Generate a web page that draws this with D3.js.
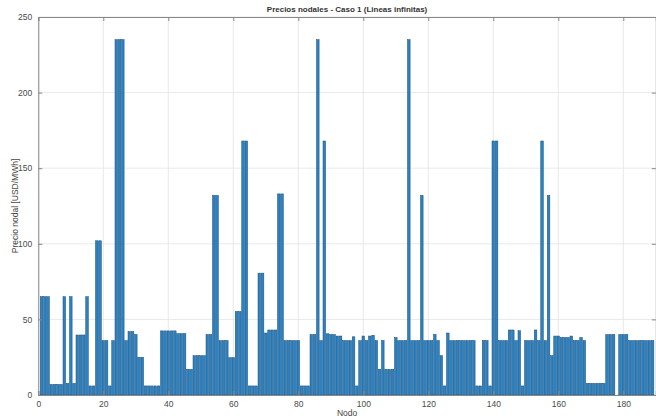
<!DOCTYPE html>
<html>
<head>
<meta charset="utf-8">
<script src="https://cdn.jsdelivr.net/npm/d3@7"></script>
<style>
  html, body { margin: 0; padding: 0; background: #ffffff; }
  svg { display: block; }
  text { font-family: "Liberation Sans", Arial, sans-serif; }
</style>
</head>
<body>
<svg id="chart" width="656" height="419"></svg>
<script>
// Nodal prices per bus (USD/MWh), buses 1..189
const nodes = d3.range(1, 190);
const prices = [
  65, 65, 65, 7, 7, 7, 7, 65, 7.7, 65,
  7.7, 39.7, 39.7, 39.7, 65, 6, 6, 102, 102, 36,
  36, 6, 36, 235, 235, 235, 36, 42, 42, 40,
  25, 25, 6, 6, 6, 6, 6, 42.4, 42.4, 42.4,
  42.4, 42.4, 40.6, 40.6, 40.6, 17, 17, 26, 26, 26,
  26, 40, 40, 132, 132, 36, 36, 36, 24.7, 24.7,
  55.2, 55.2, 168, 168, 6, 6, 6, 80.6, 80.6, 41,
  43, 43, 43, 133, 133, 36, 36, 36, 36, 36,
  6, 6, 6, 40, 40, 235, 36, 168, 40.5, 40,
  40, 39, 39, 36, 36, 36, 38.5, 6, 36, 39,
  36, 39, 39.5, 36, 17, 36, 17, 17, 17, 38,
  36, 36, 36, 235, 36, 36, 36, 132, 36, 36,
  36, 40, 36, 26, 6, 41, 36, 36, 36, 36,
  36, 36, 36, 36, 6, 6, 36, 36, 6, 168,
  168, 36, 36, 36, 43, 43, 36, 42.5, 6, 36,
  36, 36, 43, 36, 168, 36, 132, 26, 39, 39,
  38, 38, 38, 39, 36, 36, 38, 36, 7.7, 7.7,
  7.7, 7.7, 7.7, 7.7, 40, 40, 40, 0, 40, 40,
  40, 36, 36, 36, 36, 36, 36, 36, 36
];
const xTicks = [0, 20, 40, 60, 80, 100, 120, 140, 160, 180];
const yTicks = [0, 50, 100, 150, 200, 250];

const titleText = "Precios nodales - Caso 1 (Lineas infinitas)";
const xLabel = "Nodo";
const yLabel = "Precio nodal [USD/MWh]";

const svg = d3.select("#chart");
const plotLeft = 38.3, plotRight = 655.8, plotTop = 17, plotBottom = 395;

const x = d3.scaleLinear().domain([0, 190]).range([plotLeft, plotRight]);
const y = d3.scaleLinear().domain([0, 250]).range([plotBottom, plotTop]);
const barW = 0.8 * (x(1) - x(0));

// grid
const grid = svg.append("g");
grid.selectAll("line.gx").data(xTicks).enter().append("line")
  .attr("x1", d => x(d)).attr("x2", d => x(d))
  .attr("y1", plotTop).attr("y2", plotBottom)
  .attr("stroke", "#e3e3e3").attr("stroke-width", 0.8);
grid.selectAll("line.gy").data(yTicks).enter().append("line")
  .attr("x1", plotLeft).attr("x2", plotRight)
  .attr("y1", d => y(d)).attr("y2", d => y(d))
  .attr("stroke", "#e3e3e3").attr("stroke-width", 0.8);

// bars
svg.append("g").selectAll("rect").data(nodes).enter().append("rect")
  .attr("x", (d) => x(d) - barW / 2)
  .attr("width", barW)
  .attr("y", (d, i) => y(prices[i]))
  .attr("height", (d, i) => y(0) - y(prices[i]))
  .attr("fill", "#2a82c2")
  .attr("stroke", "#1c4f7c")
  .attr("stroke-width", 0.5);

// axes with inward ticks
const axisColor = "#888888";
const fmt = d3.format("d");
const gx = svg.append("g").attr("transform", `translate(0,${plotBottom})`)
  .call(d3.axisBottom(x).tickValues(xTicks).tickSize(-4).tickPadding(6).tickFormat(fmt));
const gxTop = svg.append("g").attr("transform", `translate(0,${plotTop})`)
  .call(d3.axisTop(x).tickValues(xTicks).tickSize(-4).tickFormat(""));
const gy = svg.append("g").attr("transform", `translate(${plotLeft},0)`)
  .call(d3.axisLeft(y).tickValues(yTicks).tickSize(-4).tickPadding(6).tickFormat(fmt));
const gyRight = svg.append("g").attr("transform", `translate(${plotRight},0)`)
  .call(d3.axisRight(y).tickValues(yTicks).tickSize(-4).tickFormat(""));

[gx, gxTop, gy, gyRight].forEach(g => {
  g.select(".domain").attr("stroke", axisColor).attr("stroke-width", 1);
  g.selectAll(".tick line").attr("stroke", axisColor);
  g.selectAll(".tick text").attr("fill", "#4a4a4a")
    .style("font-family", "'Liberation Sans', Arial, sans-serif")
    .style("font-size", "8.5px");
});

// title and labels
svg.append("text")
  .attr("x", (plotLeft + plotRight) / 2).attr("y", 12)
  .attr("text-anchor", "middle")
  .attr("fill", "#333")
  .style("font-size", "8px").style("font-weight", "bold")
  .text(titleText);

svg.append("text")
  .attr("x", (plotLeft + plotRight) / 2).attr("y", 416)
  .attr("text-anchor", "middle")
  .attr("fill", "#444")
  .style("font-size", "8.5px")
  .text(xLabel);

svg.append("text")
  .attr("transform", `translate(18,${(plotTop + plotBottom) / 2}) rotate(-90)`)
  .attr("text-anchor", "middle")
  .attr("fill", "#444")
  .style("font-size", "8.5px")
  .text(yLabel);
</script>
</body>
</html>
